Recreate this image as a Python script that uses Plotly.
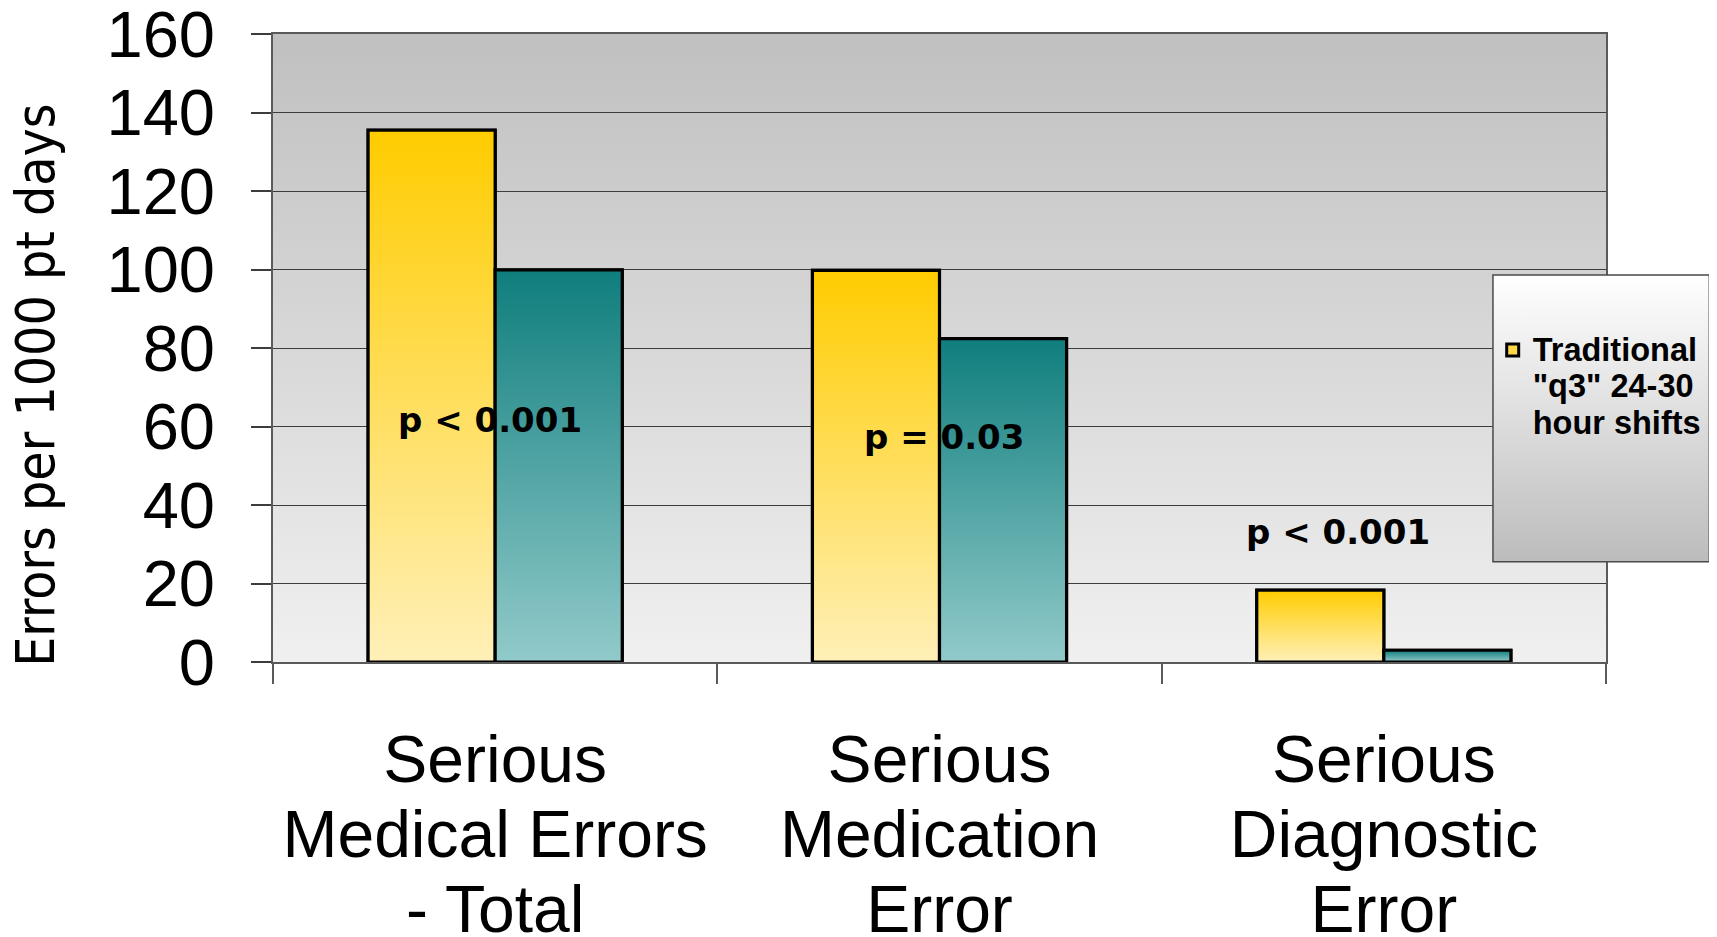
import base64
import plotly.graph_objects as go

# ---------------- data ----------------
categories = ["Serious<br>Medical Errors<br>- Total", "Serious<br>Medication<br>Error", "Serious<br>Diagnostic<br>Error"]
traditional = [135.5, 99.8, 18.3]      # Traditional "q3" 24-30 hour shifts
intervention = [99.9, 82.4, 3.0]       # Intervention schedule
p_labels = ["p < 0.001", "p = 0.03", "p < 0.001"]
p_label_x = [-0.011, 1.011, 1.896]
p_label_y = [61.7, 57.3, 33.1]
y_ticks = [0, 20, 40, 60, 80, 100, 120, 140, 160]

series_names = ['Traditional<br>"q3" 24-30<br>hour shifts', "Intervention schedule"]

# ---------------- style ----------------
W = 0.286
YEL_TOP, YEL_BOT = "#ffcc00", "#fff0b8"
TEAL_TOP, TEAL_BOT = "#0f7e7d", "#92caca"
GRID = "#3c3c3c"
FRAME = "#5a5a5a"


def grad_uri(top, bottom):
    svg = ('<svg xmlns="http://www.w3.org/2000/svg" width="100" height="100" preserveAspectRatio="none">'
           '<defs><linearGradient id="g" x1="0" y1="0" x2="0" y2="1">'
           f'<stop offset="0" stop-color="{top}"/><stop offset="1" stop-color="{bottom}"/>'
           '</linearGradient></defs><rect width="100" height="100" fill="url(#g)"/></svg>')
    return "data:image/svg+xml;base64," + base64.b64encode(svg.encode()).decode()


fig = go.Figure()

xs = list(range(len(categories)))
specs = [
    (traditional, series_names[0], -W, YEL_TOP, YEL_BOT, "#ffd84a", True),
    (intervention, series_names[1], 0.0, TEAL_TOP, TEAL_BOT, "#4fa3a2", False),
]

for vals, name, off, ctop, cbot, solid, show in specs:
    fig.add_trace(go.Bar(
        x=xs, y=vals, width=W, offset=off, name=name, showlegend=show,
        marker=dict(color=solid, line=dict(color="black", width=3)),
    ))

# gradient fills of the same bars (one trace per bar so each has its own gradient)
for vals, name, off, ctop, cbot, solid, show in specs:
    for xi, v in zip(xs, vals):
        x0 = xi + off
        x1 = x0 + W
        fig.add_trace(go.Scatter(
            x=[x0, x0, x1, x1, x0], y=[0, v, v, 0, 0],
            mode="lines", fill="toself", showlegend=False, hoverinfo="skip",
            line=dict(color="black", width=3.2),
            fillgradient=dict(type="vertical", colorscale=[[0, cbot], [1, ctop]]),
        ))

# p-value labels
for px, py, t in zip(p_label_x, p_label_y, p_labels):
    fig.add_annotation(x=px, y=py, text=t, showarrow=False, xanchor="center", yanchor="middle",
                       font=dict(family="DejaVu Sans", size=34, color="black", weight="bold"))

# y-axis title as annotation (offset downward like in the source)
fig.add_annotation(xref="paper", yref="y", x=-0.1784, y=70.4, text="Errors per 1000 pt days",
                   textangle=-90, showarrow=False, xanchor="center", yanchor="middle",
                   font=dict(family="DejaVu Sans Condensed, Liberation Sans", size=53, color="black"))

ticktext = ["<span style='font-size:66px'>" + c.replace("<br>", "</span><br><span style='font-size:66px'>") + "</span>"
            for c in categories]

legend_text = "<br>".join("<span style='font-size:32.5px'>" + s + "</span>" for s in series_names[0].split("<br>"))
fig.data[0].name = legend_text

# page body has an 8px margin, so margins are shifted to keep the plot area in place
fig.update_layout(
    width=1717, height=937,
    margin=dict(l=265, r=119, t=26, b=283, autoexpand=False),
    paper_bgcolor="white", plot_bgcolor="rgba(0,0,0,0)",
    barmode="overlay",
    showlegend=True,
    legend=dict(x=0.915, y=0.536, xanchor="left", yanchor="top", bgcolor="rgba(0,0,0,0)",
                borderwidth=0, valign="top",
                font=dict(family="Liberation Sans, Arial", size=28, color="black", weight="bold")),
    images=[
        dict(source=grad_uri("#c0c0c0", "#f0f0f0"), xref="paper", yref="paper", x=0, y=1,
             sizex=1, sizey=1, sizing="stretch", layer="below", xanchor="left", yanchor="top"),
        dict(source=grad_uri("#ffffff", "#bcbcbc"), xref="paper", yref="paper", x=0.9152, y=0.6162,
             sizex=1.0775 - 0.9152, sizey=0.6162 - 0.1597, sizing="stretch", layer="above",
             xanchor="left", yanchor="top"),
    ],
    shapes=[dict(type="rect", xref="paper", yref="paper", x0=0.9152, x1=1.0775, y0=0.1597, y1=0.6162,
                 line=dict(color="#4a4a4a", width=1.5), fillcolor="rgba(0,0,0,0)", layer="above")],
)

fig.update_xaxes(
    range=[-0.5, 2.5], tickmode="array", tickvals=xs, ticktext=ticktext,
    tickfont=dict(family="Liberation Sans, Arial", size=58, color="black"),
    ticks="", showgrid=False, zeroline=False,
    showline=True, mirror=True, linecolor=FRAME, linewidth=2,
    ticklabelstandoff=48,
    minor=dict(tickmode="array", tickvals=[-0.5, 0.5, 1.5, 2.5], ticks="outside", ticklen=20,
               tickcolor=FRAME, tickwidth=1.5, showgrid=False),
)
fig.update_yaxes(
    range=[0, 160], tickmode="array", tickvals=y_ticks,
    tickfont=dict(family="Liberation Sans, Arial", size=65, color="black"),
    ticks="outside", ticklen=20, tickcolor=GRID, tickwidth=1.5,
    showgrid=True, gridcolor=GRID, gridwidth=1.2, zeroline=False,
    showline=True, mirror=True, linecolor=FRAME, linewidth=2,
    ticklabelstandoff=23, ticklabeloverflow="allow",
)

fig.write_html("out.html")
